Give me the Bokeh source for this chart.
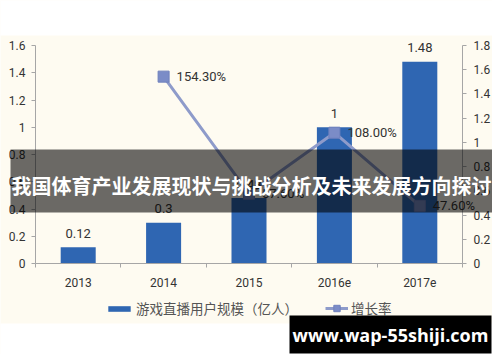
from bokeh.plotting import figure
from bokeh.models import (Range1d, LinearAxis, FixedTicker, CustomJSTickFormatter,
                          ColumnDataSource, LabelSet, Label, BoxAnnotation, Legend, LegendItem)
from bokeh.core.properties import value
from bokeh.embed import file_html
from bokeh.resources import INLINE

# ---- data ----
years = ["2013", "2014", "2015", "2016e", "2017e"]
users = [0.12, 0.30, 0.48, 1.00, 1.48]
user_labels = ["0.12", "0.3", "0.48", "1", "1.48"]
rate_years = ["2014", "2015", "2016e", "2017e"]
rates = [1.543, 0.576, 1.080, 0.476]
rate_labels = ["154.30%", "57.60%", "108.00%", "47.60%"]
left_ticks = [0, 0.2, 0.4, 0.6, 0.8, 1.0, 1.2, 1.4, 1.6]
right_ticks = [0, 0.2, 0.4, 0.6, 0.8, 1.0, 1.2, 1.4, 1.6, 1.8]
bar_name = "游戏直播用户规模（亿人）"
rate_name = "增长率"
title_text = "我国体育产业发展现状与挑战分析及未来发展方向探讨"
watermark = "www.wap-55shiji.com"

# ---- layout (pixels) ----
W, H = 492, 354
AXL, AXR = 35, 462      # left / right axis x position
AXB, AXT = 263, 45      # zero line and top of axes
LEFT_MAX, RIGHT_MAX = 1.6, 1.8
n = len(years)

def sy(py):            # screen units are measured from the frame bottom
    return H - py

CREAM = "#fefbf1"
BAR = "#2f66b2"
LINE = "#8e9bca"
MARK = "#7b8cc7"
TXT = "#333333"
AX = "#a6a6a6"

xs = [i + 0.5 for i in range(n)]
rxs = [years.index(y) + 0.5 for y in rate_years]

kx = (AXR - AXL) / n
kl = (AXB - AXT) / LEFT_MAX
kr = (AXB - AXT) / RIGHT_MAX

p = figure(width=W, height=H, output_backend="svg", toolbar_location=None,
           x_axis_location=None, y_axis_location=None,
           x_range=Range1d(-AXL / kx, (W - AXL) / kx),
           y_range=Range1d((AXB - H) / kl, AXB / kl),
           min_border_left=0, min_border_right=0, min_border_top=0, min_border_bottom=0)
p.extra_y_ranges = {"rate": Range1d((AXB - H) / kr, AXB / kr)}
p.background_fill_color = CREAM
p.border_fill_color = "white"
p.outline_line_color = None
p.grid.visible = False

# white page above and below the cream chart area
for top, bottom in [(sy(-5), sy(35)), (sy(323), sy(H + 5))]:
    p.add_layout(BoxAnnotation(left=-5, right=W + 5, top=top, bottom=bottom,
                               left_units="screen", right_units="screen",
                               top_units="screen", bottom_units="screen",
                               fill_color="white", fill_alpha=1, line_color=None,
                               level="underlay"))

bars = p.vbar(x=xs, top=users, width=0.41, fill_color=BAR, line_color=None)
line_r = p.line(x=rxs, y=rates, y_range_name="rate", line_color=LINE, line_width=3)
mark_r = p.scatter(x=rxs, y=rates, y_range_name="rate", marker="square", size=11,
                   fill_color=MARK, line_color="#6f80bd")

fmt = CustomJSTickFormatter(code="return String(Number(tick.toFixed(1)));")

def style_axis(a, standoff):
    a.axis_line_color = AX
    a.major_tick_line_color = AX
    a.major_tick_out = 4
    a.major_tick_in = 0
    a.minor_tick_line_color = None
    a.major_label_standoff = standoff
    a.major_label_text_font = "Roboto"
    a.major_label_text_font_size = "12px"
    a.major_label_text_color = TXT

la = LinearAxis(ticker=FixedTicker(ticks=left_ticks), formatter=fmt,
                fixed_location=0, bounds=(0, LEFT_MAX))
style_axis(la, 6)
p.add_layout(la, "left")

ra = LinearAxis(y_range_name="rate", ticker=FixedTicker(ticks=right_ticks), formatter=fmt,
                fixed_location=n, bounds=(0, RIGHT_MAX))
style_axis(ra, 7)
p.add_layout(ra, "right")

xa = LinearAxis(ticker=FixedTicker(ticks=xs, minor_ticks=list(range(n + 1))),
                fixed_location=0, bounds=(0, n))
style_axis(xa, 10)
xa.major_label_overrides = {x: y for x, y in zip(xs, years)}
xa.major_tick_out = 0
xa.major_tick_line_color = None
xa.minor_tick_line_color = AX
xa.minor_tick_out = 4
xa.minor_tick_in = 0
p.add_layout(xa, "below")

# data labels
bsrc = ColumnDataSource(dict(x=xs, y=users, t=user_labels))
p.add_layout(LabelSet(x="x", y="y", text="t", source=bsrc, text_align="center",
                      text_baseline="middle", y_offset=14, text_font=value("Roboto"),
                      text_font_size="13px", text_color=TXT))
rsrc = ColumnDataSource(dict(x=rxs, y=rates, t=rate_labels))
p.add_layout(LabelSet(x="x", y="y", text="t", source=rsrc, y_range_name="rate",
                      text_align="left", text_baseline="middle", x_offset=13,
                      text_font=value("Roboto"), text_font_size="13px", text_color=TXT))

# legends
leg_common = dict(orientation="horizontal", padding=0, margin=0, spacing=0,
                  border_line_color=None, background_fill_alpha=0,
                  label_standoff=3, label_height=16,
                  label_text_font="Noto Sans CJK SC", label_text_font_size="13.5px",
                  label_text_color="#555555")
leg1 = Legend(items=[LegendItem(label=bar_name, renderers=[bars])],
              location=(105, sy(318)), glyph_width=28, glyph_height=7, **leg_common)
leg2 = Legend(items=[LegendItem(label=rate_name, renderers=[line_r, mark_r])],
              location=(325, sy(318)), glyph_width=23, glyph_height=16, **leg_common)
p.add_layout(leg1, "center")
p.add_layout(leg2, "center")

# dark title banner
p.add_layout(BoxAnnotation(left=10, right=492, top=sy(149), bottom=sy(212),
                           left_units="screen", right_units="screen",
                           top_units="screen", bottom_units="screen",
                           fill_color="black", fill_alpha=0.58, line_color=None,
                           level="overlay"))
p.add_layout(Label(x=251, y=sy(185), x_units="screen", y_units="screen",
                   text=title_text, text_align="center", text_baseline="middle",
                   text_font="Noto Sans CJK SC", text_font_style="bold",
                   text_font_size="20px", text_color="white", level="overlay"))

# watermark box
p.add_layout(BoxAnnotation(left=289, right=491, top=sy(315), bottom=sy(353),
                           left_units="screen", right_units="screen",
                           top_units="screen", bottom_units="screen",
                           fill_color="black", fill_alpha=1, line_color=None,
                           level="overlay"))
p.add_layout(Label(x=390, y=sy(334), x_units="screen", y_units="screen",
                   text=watermark, text_align="center", text_baseline="middle",
                   text_font="Open Sans", text_font_style="bold",
                   text_font_size="18px", text_color="white", level="overlay"))

open("out.html", "w").write(file_html(p, INLINE))
